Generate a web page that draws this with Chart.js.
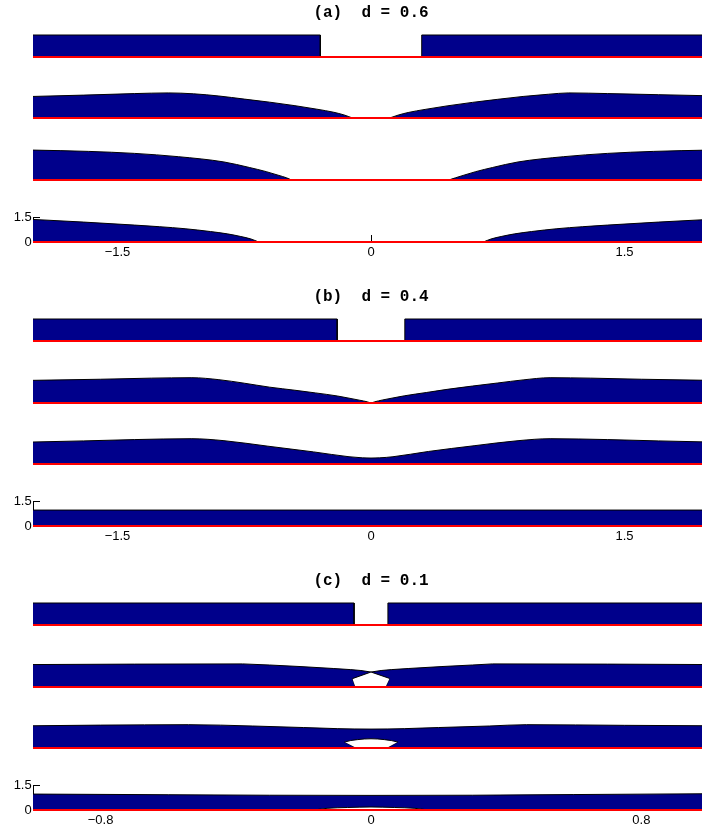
<!DOCTYPE html>
<html>
<head>
<meta charset="utf-8">
<script src="https://cdn.jsdelivr.net/npm/chart.js@4.4.1/dist/chart.umd.min.js"></script>
<style>
  html, body { margin: 0; padding: 0; background: #fff; overflow: hidden; }
  #wrap { position: relative; width: 702px; height: 830px; overflow: hidden; }
  #wrap canvas { position: absolute; left: 0; }
</style>
</head>
<body>
<div id="wrap"></div>
<script>
// --- Titles, ranges, ticks ---
const titles = ['(a)  d = 0.6', '(b)  d = 0.4', '(c)  d = 0.1'];
const xRangeAB = [-2, 2];
const xRangeC = [-1, 1];
const xTicksAB = [-1.5, 0, 1.5];
const xTicksC = [-0.8, 0, 0.8];
const yTicks = [0, 1.5];

// --- Panel (a): film height h(x), null = dry substrate ---
const a1X = [-2, -0.3, -0.3, 0, 0.3, 0.3, 2];
const a1H = [1, 1, 0, null, 0, 1, 1];
const a2X = [-2, -1.7, -1.4, -1.2, -1.05, -0.9, -0.75, -0.6, -0.45, -0.32, -0.22, -0.16, -0.11, 0,
             0.11, 0.16, 0.22, 0.32, 0.45, 0.6, 0.75, 0.9, 1.05, 1.17, 1.4, 1.7, 2];
const a2H = [0.98, 1.04, 1.11, 1.14, 1.1, 1.0, 0.86, 0.72, 0.56, 0.4, 0.26, 0.14, 0, null,
             0, 0.13, 0.25, 0.39, 0.55, 0.71, 0.85, 0.98, 1.08, 1.14, 1.11, 1.06, 1.01];
const a3X = [-2, -1.67, -1.4, -1.14, -0.87, -0.72, -0.62, -0.55, -0.5, -0.47, 0,
             0.46, 0.5, 0.55, 0.62, 0.72, 0.87, 1.14, 1.4, 1.67, 2];
const a3H = [1.36, 1.3, 1.21, 1.06, 0.82, 0.57, 0.38, 0.22, 0.1, 0, null,
             0, 0.1, 0.22, 0.38, 0.57, 0.82, 1.06, 1.21, 1.3, 1.36];
const a4X = [-2, -1.7, -1.4, -1.25, -1.1, -0.95, -0.85, -0.77, -0.71, -0.665, 0,
             0.665, 0.71, 0.77, 0.85, 0.95, 1.1, 1.25, 1.4, 1.7, 2];
const a4H = [1.36, 1.2, 1.02, 0.92, 0.8, 0.63, 0.49, 0.33, 0.18, 0, null,
             0, 0.18, 0.33, 0.49, 0.63, 0.8, 0.92, 1.02, 1.2, 1.36];

// --- Panel (b) ---
const b1X = [-2, -0.2, -0.2, 0, 0.2, 0.2, 2];
const b1H = [1, 1, 0, null, 0, 1, 1];
const b2X = [-2, -1.6, -1.3, -1.06, -0.9, -0.75, -0.6, -0.45, -0.33, -0.2, -0.13, -0.07, -0.02, 0,
             0.02, 0.07, 0.13, 0.2, 0.33, 0.45, 0.6, 0.75, 0.9, 1.06, 1.3, 1.6, 2];
const b2H = [1.03, 1.08, 1.13, 1.15, 1.06, 0.9, 0.72, 0.58, 0.46, 0.32, 0.22, 0.13, 0.05, 0,
             0.05, 0.14, 0.23, 0.33, 0.48, 0.62, 0.77, 0.91, 1.05, 1.15, 1.13, 1.08, 1.03];
const b3X = [-2, -1.7, -1.4, -1.06, -0.87, -0.61, -0.34, -0.13, -0.05, 0,
             0.05, 0.13, 0.34, 0.61, 0.87, 1.06, 1.4, 1.7, 2];
const b3H = [1.0, 1.05, 1.11, 1.15, 1.06, 0.81, 0.55, 0.33, 0.28, 0.27,
             0.28, 0.33, 0.57, 0.83, 1.06, 1.15, 1.11, 1.05, 1.0];
const b4X = [-2, -1, 0, 1, 2];
const b4H = [0.96, 0.96, 0.96, 0.96, 0.96];

// --- Panel (c), with trapped cavities ---
const c1X = [-1, -0.05, -0.05, 0, 0.05, 0.05, 1];
const c1H = [1, 1, 0, null, 0, 1, 1];
const c2X = [-1, -0.7, -0.38, -0.3, -0.21, -0.11, -0.06, -0.03, 0, 0.03, 0.06, 0.11, 0.21, 0.3, 0.36, 0.7, 1];
const c2H = [1.02, 1.04, 1.05, 1.0, 0.93, 0.84, 0.79, 0.75, 0.68, 0.75, 0.79, 0.84, 0.93, 1.0, 1.05, 1.04, 1.02];
const c2CavX = [-0.055, 0, 0.055];
const c2CavTop = [0.38, 0.68, 0.39];
const c2CavBaseX = [-0.055, -0.046, 0.043, 0.055];
const c2CavBase = [0.38, 0, 0, 0.39];
const c3X = [-1, -0.8, -0.54, -0.35, -0.2, -0.1, 0, 0.1, 0.2, 0.35, 0.46, 0.75, 1];
const c3H = [1.01, 1.04, 1.06, 1.0, 0.93, 0.88, 0.86, 0.88, 0.93, 1.0, 1.06, 1.03, 1.01];
const c3CavX = [-0.078, -0.06, -0.04, -0.02, 0, 0.02, 0.04, 0.06, 0.079];
const c3CavTop = [0.27, 0.34, 0.38, 0.41, 0.42, 0.41, 0.38, 0.34, 0.27];
const c3CavBaseX = [-0.078, -0.043, 0.046, 0.079];
const c3CavBase = [0.27, 0, 0, 0.27];
const c4X = [-1, -0.6, -0.3, 0, 0.3, 0.6, 1];
const c4H = [0.96, 0.92, 0.89, 0.88, 0.89, 0.93, 0.98];
const c4CavX = [-0.169, -0.13, -0.07, 0, 0.07, 0.13, 0.17];
const c4CavTop = [0, 0.1, 0.15, 0.18, 0.15, 0.1, 0];
const c4CavBaseX = [-0.169, 0.17];
const c4CavBase = [0, 0];

// --- Layout ---
const panels = [
  { title: titles[0], xRange: xRangeAB, xTicks: xTicksAB, base: 56.7, strips: [
    { x: a1X, h: a1H }, { x: a2X, h: a2H, smooth: true },
    { x: a3X, h: a3H, smooth: true }, { x: a4X, h: a4H, smooth: true } ] },
  { title: titles[1], xRange: xRangeAB, xTicks: xTicksAB, base: 341, strips: [
    { x: b1X, h: b1H }, { x: b2X, h: b2H, smooth: true },
    { x: b3X, h: b3H, smooth: true }, { x: b4X, h: b4H } ] },
  { title: titles[2], xRange: xRangeC, xTicks: xTicksC, base: 625, strips: [
    { x: c1X, h: c1H },
    { x: c2X, h: c2H, cav: [[c2CavX, c2CavTop, c2CavBaseX, c2CavBase, false]] },
    { x: c3X, h: c3H, smooth: true, cav: [[c3CavX, c3CavTop, c3CavBaseX, c3CavBase, true]] },
    { x: c4X, h: c4H, smooth: true, cav: [[c4CavX, c4CavTop, c4CavBaseX, c4CavBase, true]] } ] }
];

const wrap = document.getElementById('wrap');
const NAVY = '#00008b';
const CANVAS_W = 712;   // plot runs a little past the page edge, like the original
const PLOT_H = 33;      // px for 0 .. 1.5
const STRIP_STEP = 61.67;
const tickFont = { family: 'Liberation Sans, Arial, sans-serif', size: 13 };
const fmt = v => (v < 0 ? '\u2212' + Math.abs(v) : String(v));

function pts(xs, ys) {
  return xs.map((x, i) => ({ x: x, y: ys[i] }));
}

function drawStrip(baseline, panel, strip, isFirst, isLast) {
  const above = isFirst ? 26 : (isLast ? 8 : 6);
  const below = isLast ? 22 : 6;
  const canvas = document.createElement('canvas');
  canvas.width = CANVAS_W;
  canvas.height = above + PLOT_H + below;
  canvas.style.top = Math.round(baseline - PLOT_H - above) + 'px';
  wrap.appendChild(canvas);

  // dataset 0 is drawn last: red substrate on top, then cavities, then the film
  const datasets = [{
    data: pts(panel.xRange, [0, 0]), borderColor: '#ff0000', borderWidth: 2, fill: false, clip: false
  }];
  (strip.cav || []).forEach(c => {
    datasets.push({
      data: pts(c[0], c[1]), borderColor: '#000', borderWidth: 1,
      backgroundColor: '#fff', fill: '+1',
      cubicInterpolationMode: c[4] ? 'monotone' : 'default'
    });
    datasets.push({ data: pts(c[2], c[3]), borderColor: '#000', borderWidth: 1, fill: false });
  });
  datasets.push({
    data: pts(strip.x, strip.h), borderColor: '#000', borderWidth: 1,
    backgroundColor: NAVY, fill: 'origin',
    cubicInterpolationMode: strip.smooth ? 'monotone' : 'default'
  });

  new Chart(canvas, {
    type: 'line',
    data: { datasets },
    options: {
      responsive: false,
      animation: false,
      events: [],
      // hidden axes still keep their fitted box, so the axes set the left/bottom margins
      layout: {
        autoPadding: false,
        padding: { top: isFirst ? 0 : above, bottom: 0, left: 0, right: 3 }
      },
      elements: { point: { radius: 0 }, line: { tension: 0 } },
      plugins: {
        legend: { display: false },
        tooltip: { enabled: false },
        title: {
          display: isFirst, text: panel.title, fullSize: false, color: '#000',
          font: { family: 'Liberation Mono, monospace', size: 16, weight: 'bold', lineHeight: 1.2 },
          padding: { top: 5.2, bottom: 1.6 }
        }
      },
      scales: {
        x: {
          type: 'linear', min: panel.xRange[0], max: panel.xRange[1], display: isLast,
          afterBuildTicks: s => { s.ticks = panel.xTicks.map(v => ({ value: v })); },
          afterFit: s => { s.height = below; },
          grid: { drawOnChartArea: false, tickLength: -7, color: '#000' },
          border: { display: false },
          ticks: { font: tickFont, color: '#000', padding: 10, maxRotation: 0, autoSkip: false, callback: fmt }
        },
        y: {
          type: 'linear', min: 0, max: 1.5, display: isLast,
          afterBuildTicks: s => { s.ticks = yTicks.map(v => ({ value: v })); },
          afterFit: s => { s.width = 33; },
          grid: { drawOnChartArea: false, tickLength: -7, color: '#000' },
          border: { display: true, color: '#000' },
          ticks: { font: tickFont, color: '#000', padding: 8.3, autoSkip: false, callback: fmt }
        }
      }
    }
  });
}

panels.forEach(panel => {
  panel.strips.forEach((strip, i) => {
    drawStrip(panel.base + i * STRIP_STEP, panel, strip, i === 0, i === panel.strips.length - 1);
  });
});
</script>
</body>
</html>
